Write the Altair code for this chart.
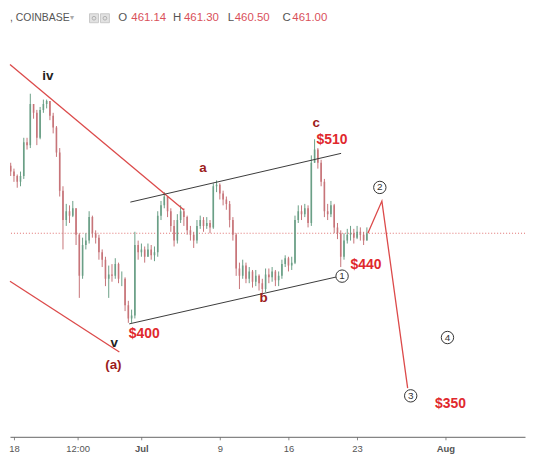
import altair as alt
import pandas as pd
import numpy as np

# ---- candle data (8h candles starting 2018-06-17 00:00), prices in USD ----
close = [503, 507, 503, 500, 496, 500, 523, 521, 549, 543, 526, 545, 549, 551, 541, 533,
         516, 490, 470, 476, 473, 478, 460, 432, 453, 456, 472, 461, 458, 448, 443, 430,
         433, 432, 440, 430, 430, 412, 403, 405, 453, 448, 450, 445, 450, 446, 448, 473,
         480, 486, 476, 466, 456, 470, 476, 472, 463, 460, 456, 466, 470, 466, 468, 465,
         493, 494, 488, 484, 481, 470, 460, 437, 432, 439, 430, 435, 428, 432, 427, 423,
         433, 431, 435, 429, 432, 440, 444, 439, 441, 470, 476, 474, 478, 468, 509, 518,
         509, 496, 476, 474, 480, 465, 461, 445, 456, 460, 461, 458, 462, 460, 456, 461]
high = [507, 513, 509, 505, 501, 503, 526, 526, 556, 549, 545, 547, 552, 552, 551, 543,
        534, 519, 493, 481, 480, 483, 478, 461, 458, 461, 476, 473, 463, 460, 450, 445,
        439, 440, 444, 441, 435, 431, 415, 409, 462, 456, 454, 452, 454, 453, 452, 476,
        483, 489, 486, 478, 470, 474, 480, 478, 473, 466, 462, 470, 473, 472, 472, 470,
        495, 497, 495, 490, 486, 483, 472, 461, 441, 443, 441, 438, 436, 436, 433, 430,
        437, 437, 438, 436, 435, 443, 446, 445, 445, 473, 480, 480, 481, 480, 514, 525,
        519, 511, 498, 481, 483, 481, 468, 463, 461, 464, 466, 464, 466, 465, 462, 465]
low = [500, 503, 500, 496, 492, 493, 498, 518, 519, 539, 521, 525, 543, 546, 538, 529,
       513, 486, 450, 466, 468, 472, 453, 417, 430, 450, 454, 458, 454, 443, 438, 425,
       417, 428, 430, 427, 425, 408, 400, 400, 403, 443, 445, 441, 445, 443, 442, 445,
       470, 478, 472, 462, 452, 454, 468, 466, 460, 456, 451, 454, 464, 462, 464, 461,
       464, 489, 484, 480, 477, 465, 456, 432, 423, 430, 427, 427, 424, 425, 422, 419,
       421, 427, 428, 425, 425, 430, 438, 435, 436, 440, 468, 470, 472, 465, 466, 509,
       505, 493, 472, 470, 472, 461, 457, 438, 443, 454, 456, 454, 457, 456, 453, 457]
first_open = 505

# x-axis tick positions (days after 18 Jun) and their labels
tick_days = [0, 6.5, 13, 21, 28, 35, 44]
tick_labels = ["18", "12:00", "Jul", "9", "16", "23", "Aug"]

# annotation levels (day, price)
red_upper = [(-0.406, 575.9), (17.34, 476.9)]
red_lower = [(-0.406, 428.3), (10.75, 380.1)]
chan_upper = [(11.87, 482.2), (33.37, 515.4)]
chan_lower = [(11.76, 399.3), (32.86, 431.2)]
projection_day = [36.1, 37.53, 40.16]
projection_price = [461.0, 482.9, 355.6]
circle_day = [33.47, 37.32, 40.47, 44.22]
circle_price = [431.8, 492.2, 350.3, 390.0]
circle_text = ["1", "2", "3", "4"]
price_lbl_text = ["$510", "$440", "$400", "$350"]
price_lbl_day = [32.45, 35.9, 13.29, 44.52]
price_lbl_price = [524.7, 439.1, 392.7, 345.0]
wave_text = ["a", "b", "c", "(a)"]
wave_day = [19.27, 25.46, 30.83, 10.14]
wave_price = [505.4, 416.6, 535.9, 371.5]
black_text = ["iv", "v"]
black_day = [3.45, 10.24]
black_price = [568.4, 386.1]
last_price = 461.0

# ---- build tables ----
times = pd.date_range("2018-06-17 00:00", periods=len(close), freq="8h")
day = (times - pd.Timestamp("2018-06-18")) / pd.Timedelta(days=1)
opens = [first_open] + close[:-1]
df = pd.DataFrame({"day": np.asarray(day, dtype=float), "open": opens, "close": close,
                   "high": high, "low": low})
df["high"] = df[["high", "open", "close"]].max(axis=1)
df["low"] = df[["low", "open", "close"]].min(axis=1)
df["dir"] = np.where(df["close"] >= df["open"], "up", "down")

def seg(pts):
    return {"x": pts[0][0], "y": pts[0][1], "x2": pts[1][0], "y2": pts[1][1]}

red_df = pd.DataFrame([seg(red_upper), seg(red_lower)])
chan_df = pd.DataFrame([seg(chan_upper), seg(chan_lower)])
proj_df = pd.DataFrame({"x": projection_day, "y": projection_price, "o": [0, 1, 2]})
circ_df = pd.DataFrame({"x": circle_day, "y": circle_price, "t": circle_text})
plbl_df = pd.DataFrame({"x": price_lbl_day, "y": price_lbl_price, "t": price_lbl_text})
wave_df = pd.DataFrame({"x": wave_day, "y": wave_price, "t": wave_text})
blk_df = pd.DataFrame({"x": black_day, "y": black_price, "t": black_text})
one = pd.DataFrame({"k": [0]})

FONT = "Liberation Sans"
RED = "#dc4a4a"
UP = "#6a9f86"
DOWN = "#c77479"

xs = alt.Scale(domain=[-0.406, 52.13], nice=False, zero=False)
ys = alt.Scale(domain=[322.4, 613.5], nice=False, zero=False)

label_expr = " : ".join(
    f"datum.value == {v} ? '{l}'" for v, l in zip(tick_days, tick_labels)) + " : ''"
xaxis = alt.Axis(values=tick_days, labelExpr=label_expr, title=None, grid=False,
                 domainColor="#666", tickColor="#888", tickSize=3, labelColor="#555",
                 labelFont=FONT, labelFontSize=9.5, labelPadding=4,
                 labelFontWeight={"condition": {"test": "datum.value == 13 || datum.value == 44",
                                                "value": "bold"}, "value": "normal"})

def X(f):
    return alt.X(f, type="quantitative", scale=xs, axis=xaxis)

def Y(f):
    return alt.Y(f, type="quantitative", scale=ys, axis=None)

color = alt.Color("dir:N", scale=alt.Scale(domain=["up", "down"], range=[UP, DOWN]), legend=None)

dotted = alt.Chart(one).mark_rule(color="#e07070", strokeDash=[1, 2], strokeWidth=1).encode(
    y=alt.Y(datum=last_price, type="quantitative", scale=ys, axis=None))

base = alt.Chart(df)
wicks = base.mark_rule(strokeWidth=1, clip=True).encode(
    x=X("day"), y=Y("low"), y2="high", color=color)
bodies = base.mark_rule(strokeWidth=1.6, clip=True).encode(
    x=X("day"), y=Y("open"), y2="close", color=color)

red_lines = alt.Chart(red_df).mark_rule(color=RED, strokeWidth=1.3).encode(
    x=X("x"), y=Y("y"), x2="x2", y2="y2")
chan_lines = alt.Chart(chan_df).mark_rule(color="#3a3a3a", strokeWidth=1).encode(
    x=X("x"), y=Y("y"), x2="x2", y2="y2")
proj = alt.Chart(proj_df).mark_line(color=RED, strokeWidth=1.3).encode(
    x=X("x"), y=Y("y"), order="o:Q")

circles = alt.Chart(circ_df).mark_point(shape="circle", size=155, filled=True, fill="white",
                                        stroke="#333", strokeWidth=1, opacity=1).encode(
    x=X("x"), y=Y("y"))
circ_txt = alt.Chart(circ_df).mark_text(font=FONT, fontSize=10, color="#333",
                                        baseline="middle", align="center").encode(
    x=X("x"), y=Y("y"), text="t:N")

plbl = alt.Chart(plbl_df).mark_text(font=FONT, fontSize=14, fontWeight="bold", color="#e0282d",
                                    baseline="middle", align="center").encode(
    x=X("x"), y=Y("y"), text="t:N")
wlbl = alt.Chart(wave_df).mark_text(font=FONT, fontSize=13.5, fontWeight="bold", color="#9c1c1c",
                                    baseline="middle", align="center").encode(
    x=X("x"), y=Y("y"), text="t:N")
blbl = alt.Chart(blk_df).mark_text(font=FONT, fontSize=13.5, fontWeight="bold", color="#222",
                                   baseline="middle", align="center").encode(
    x=X("x"), y=Y("y"), text="t:N")

# ---- header ----
HY = 9

def htext(s, x, col, size=11.5):
    return alt.Chart(one).mark_text(font=FONT, fontSize=size, color=col, align="left",
                                    baseline="middle").encode(
        x=alt.value(x), y=alt.value(HY), text=alt.value(s))

header = [
    htext(", COINBASE", 0, "#555", 10.5),
    htext("▾", 60, "#aaa", 8),
    htext("O", 109, "#555"), htext("461.14", 122, "#d9505a"),
    htext("H", 164, "#555"), htext("461.30", 175, "#d9505a"),
    htext("L", 219, "#555"), htext("460.50", 226, "#d9505a"),
    htext("C", 274, "#555"), htext("461.00", 284, "#d9505a"),
]
icons = [
    alt.Chart(one).mark_square(size=81, fill="#e2e2e2", stroke="#c9c9c9", strokeWidth=1,
                               opacity=1).encode(x=alt.value(xv), y=alt.value(HY))
    for xv in (84.5, 95.5)
] + [
    alt.Chart(one).mark_point(shape="circle", size=14, stroke="#b0b0b0", strokeWidth=1,
                              opacity=1).encode(x=alt.value(xv), y=alt.value(HY))
    for xv in (84.5, 95.5)
]

chart = alt.layer(
    dotted, wicks, bodies, red_lines, chan_lines, proj, circles, circ_txt, plbl, wlbl, blbl,
    *icons, *header
).properties(width=518, height=430, padding=0, background="white").configure_view(stroke=None)

chart.save("out.html", embed_options={"renderer": "svg", "actions": False})
